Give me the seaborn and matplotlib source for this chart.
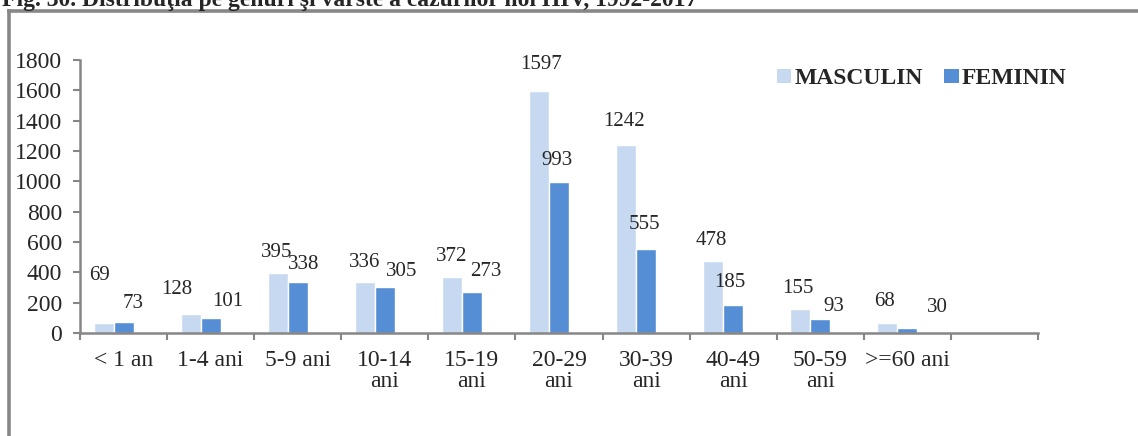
import pandas as pd
import numpy as np
import matplotlib
matplotlib.use("Agg")
import matplotlib.pyplot as plt
from matplotlib.lines import Line2D
from matplotlib.patches import Patch
import seaborn as sns

sns.set_style("white")
plt.rcParams['font.family'] = ['Liberation Serif', 'DejaVu Serif']

# data
grupe = ['< 1 an', '1-4 ani', '5-9 ani', '10-14\nani', '15-19\nani', '20-29\nani',
         '30-39\nani', '40-49\nani', '50-59\nani', '>=60 ani']
masculin = [69, 128, 395, 336, 372, 1597, 1242, 478, 155, 68]
feminin = [73, 101, 338, 305, 273, 993, 555, 185, 93, 30]

# label offsets in pixels (dx, dy) from bar top, as placed in the original
off_masc = [(-4, 47), (-14, 24), (-1, 21), (0, 20), (0, 20), (2, 26), (-2, 23), (-2, 20), (-2, 21), (-3, 21)]
off_fem = [(10, 18), (17, 16), (6, 17), (17, 15), (14, 20), (-2, 22), (-2, 24), (-3, 22), (14, 12), (30, 21)]

df = pd.DataFrame({
    'grupa': grupe * 3,
    'cazuri': masculin + feminin + [np.nan] * len(grupe),
    'sex': ['MASCULIN'] * len(grupe) + ['FEMININ'] * len(grupe) + ['-'] * len(grupe),
})

c_m = '#C6D9F1'
c_f = '#558ED5'
grey = '#868686'

fig = plt.figure(figsize=(11.38, 4.36), dpi=100)
ax = fig.add_axes([80 / 1138, 1 - 333 / 436, 958 / 1138, 273 / 436])

sns.barplot(data=df, x='grupa', y='cazuri', hue='sex', order=grupe,
            hue_order=['MASCULIN', 'FEMININ', '-'],
            palette={'MASCULIN': c_m, 'FEMININ': c_f, '-': 'white'},
            width=0.686, saturation=1, errorbar=None, legend=False, ax=ax)

ax.set_xlim(-0.5, 10.5)
ax.set_ylim(0, 1800)
ax.set_yticks(range(0, 1801, 200))
ax.set_xlabel('')
ax.set_ylabel('')

for s in ['top', 'right']:
    ax.spines[s].set_visible(False)
for s in ['left', 'bottom']:
    ax.spines[s].set_color(grey)
    ax.spines[s].set_linewidth(1.8)

ax.tick_params(axis='y', which='major', direction='out', length=5, width=1.5,
               color=grey, labelsize=17, pad=8, left=True)
ax.set_xticks(range(len(grupe)))
ax.set_xticklabels(grupe, linespacing=1.05)
ax.tick_params(axis='x', which='major', length=0, labelsize=17, pad=12)
ax.set_xticks(np.arange(-0.5, 10.6, 1), minor=True)
ax.tick_params(axis='x', which='minor', direction='out', length=5, width=1.5,
               color=grey, bottom=True)

# data labels
for cont, vals, offs in [(ax.containers[0], masculin, off_masc), (ax.containers[1], feminin, off_fem)]:
    for bar, v, (dx, dy) in zip(cont, vals, offs):
        ax.annotate(str(v), (bar.get_x() + bar.get_width() / 2, bar.get_height()),
                    xytext=(dx, dy), textcoords='offset pixels',
                    ha='center', va='center', fontsize=15)

# legend
handles = [Patch(facecolor=c_m, edgecolor='none'), Patch(facecolor=c_f, edgecolor='none')]
fig.legend(handles, ['MASCULIN', 'FEMININ'], loc='center left',
           bbox_to_anchor=(777 / 1138, 1 - 79 / 436), ncol=2, frameon=False,
           prop={'weight': 'bold', 'size': 17}, handlelength=0.6, handleheight=0.55,
           handletextpad=0.15, columnspacing=0.9, borderpad=0, borderaxespad=0)

# cropped title and frame
fig.text(0.002, 1 - 6 / 436, 'Fig. 30. Distribuţia pe genuri şi vârste a cazurilor noi HIV, 1992-2017',
         fontsize=17, fontweight='bold', va='baseline', ha='left')
fig.add_artist(Line2D([9 / 1138, 9 / 1138], [0, 1 - 11 / 436], color='#878787', lw=2.6,
                      transform=fig.transFigure, solid_capstyle='projecting'))
fig.add_artist(Line2D([9 / 1138, 1], [1 - 11 / 436, 1 - 11 / 436], color='#878787', lw=2.6,
                      transform=fig.transFigure, solid_capstyle='projecting'))

fig.savefig('out.png', dpi=100)
